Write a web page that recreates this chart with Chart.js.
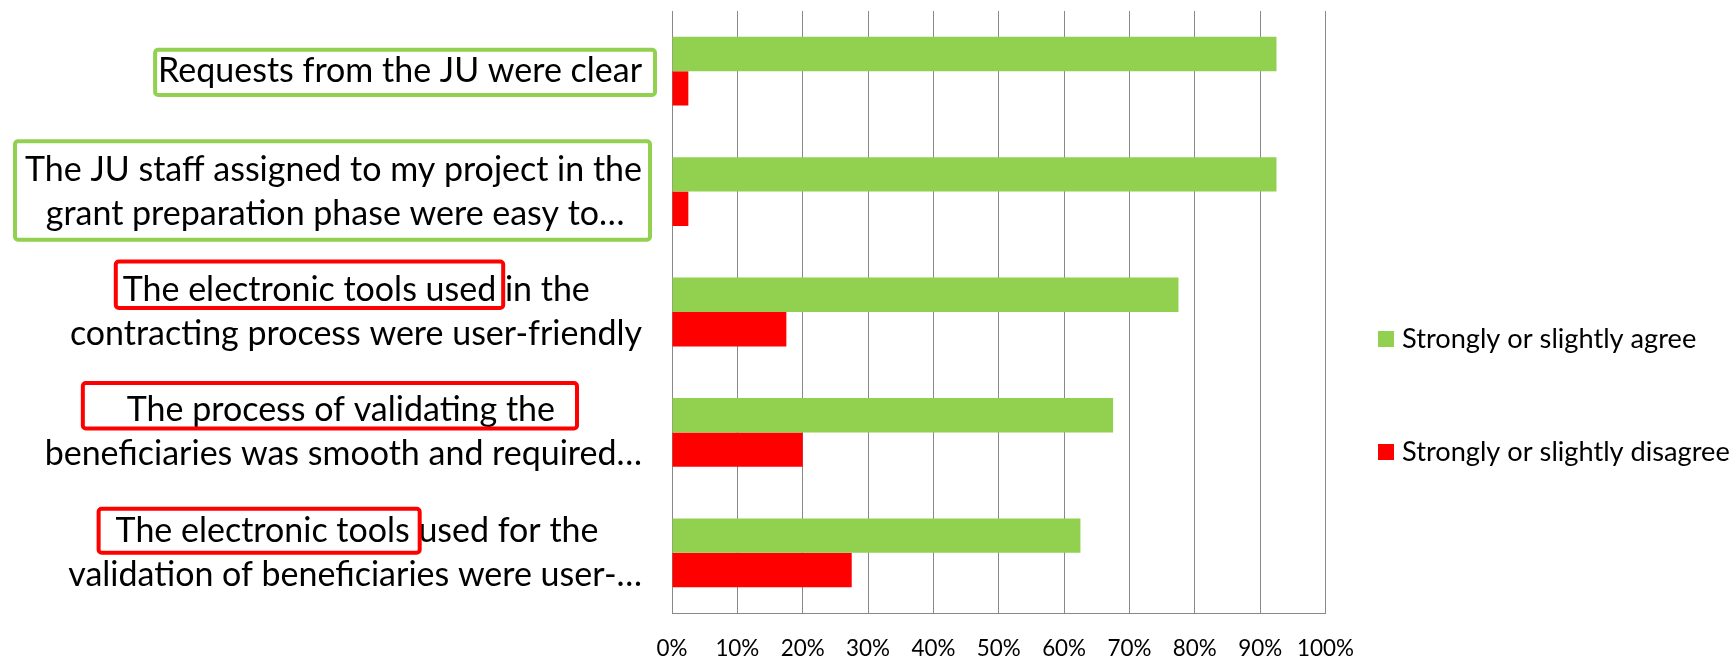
<!DOCTYPE html>
<html><head><meta charset="utf-8">
<script src="https://cdn.jsdelivr.net/npm/chart.js@4.4.0/dist/chart.umd.min.js"></script>
<style>html,body{margin:0;padding:0;background:#fff;}canvas{display:block;}</style>
</head><body>
<canvas id="c" width="1732" height="659"></canvas>
<script>
// ---- data ----
const categories = [
  ['Requests from the JU were clear'],
  ['The JU staff assigned to my project in the', 'grant preparation phase were easy to\u2026'],
  ['The electronic tools used in the', 'contracting process were user-friendly'],
  ['The process of validating the', 'beneficiaries was smooth and required\u2026'],
  ['The electronic tools used for the', 'validation of beneficiaries were user-\u2026']
];
const seriesNames = ['Strongly or slightly agree', 'Strongly or slightly disagree'];
const agreeValues = [92.5, 92.5, 77.5, 67.5, 62.5];
const disagreeValues = [2.5, 2.5, 17.5, 20, 27.5];
const xTickLabels = ['0%', '10%', '20%', '30%', '40%', '50%', '60%', '70%', '80%', '90%', '100%'];

// ---- styles ----
const FONT = 'Lato';
const GREEN = '#92D050', RED = '#FF0000', GRID = '#888888';
const mctx = document.createElement('canvas').getContext('2d');
function fitSize(text, target) { mctx.font = '100px ' + FONT; return 100 * target / mctx.measureText(text).width; }
const labelSize = fitSize(categories[0][0], 484);
const legendSize = fitSize(seriesNames[1], 328);
const tickSize = fitSize('100%', 57);
const LABEL_LH = 44;
const Y_PAD = 30;

function paddedLines(idx) {
  mctx.font = labelSize + 'px ' + FONT;
  const lines = categories[idx];
  const widths = lines.map(l => mctx.measureText(l).width);
  const maxW = Math.max(...widths);
  const sp = mctx.measureText(' ').width;
  return lines.map((l, k) => l + ' '.repeat(Math.round((maxW - widths[k]) / 2 / sp)));
}

// annotation boxes around label text (decoration)
const boxes = [
  {cat: 0, lines: [0], sub: null, padL: 3, padR: 13, padT: 21.5, padB: 23.8, color: GREEN},
  {cat: 1, lines: [0, 1], sub: null, padL: 10, padR: 8, padT: 28.3, padB: 26.1, color: GREEN},
  {cat: 2, lines: [0], sub: 'The electronic tools used', padL: 7, padR: 7, padT: 28.4, padB: 18, color: RED},
  {cat: 3, lines: [0], sub: null, padL: 44, padR: 22, padT: 27.4, padB: 18, color: RED},
  {cat: 4, lines: [0], sub: 'The electronic tools', padL: 17, padR: 10, padT: 22, padB: 22, color: RED}
];

const boxPlugin = {
  id: 'labelBoxes',
  afterDraw(chart) {
    const scale = chart.scales.y;
    const ctx = chart.ctx;
    const xRight = scale.right - Y_PAD;
    ctx.save();
    ctx.font = labelSize + 'px ' + FONT;
    ctx.lineWidth = 4;
    boxes.forEach(b => {
      const padded = paddedLines(b.cat);
      const n = padded.length;
      const yc = scale.getPixelForTick(b.cat);
      let x1 = Infinity, x2 = -Infinity, y1 = Infinity, y2 = -Infinity;
      b.lines.forEach(j => {
        const start = xRight - ctx.measureText(padded[j]).width;
        const txt = b.sub || categories[b.cat][j];
        const end = start + ctx.measureText(txt).width;
        const ly = yc + (1 - n) * LABEL_LH / 2 + j * LABEL_LH;
        x1 = Math.min(x1, start); x2 = Math.max(x2, end);
        y1 = Math.min(y1, ly); y2 = Math.max(y2, ly);
      });
      ctx.strokeStyle = b.color;
      ctx.beginPath();
      ctx.roundRect(x1 - b.padL, y1 - b.padT, (x2 + b.padR) - (x1 - b.padL), (y2 + b.padB) - (y1 - b.padT), 3);
      ctx.stroke();
    });
    ctx.restore();
  }
};

const legendPlugin = {
  id: 'sideLegend',
  afterDraw(chart) {
    const ctx = chart.ctx;
    const ys = [339, 452];
    ctx.save();
    ctx.font = legendSize + 'px ' + FONT;
    ctx.textBaseline = 'middle';
    ctx.textAlign = 'left';
    chart.data.datasets.forEach((ds, i) => {
      ctx.fillStyle = ds.backgroundColor;
      ctx.fillRect(1378, ys[i] - 8, 16, 16);
      ctx.fillStyle = '#000';
      ctx.fillText(ds.label, 1402, ys[i]);
    });
    ctx.restore();
  }
};

new Chart(document.getElementById('c'), {
  type: 'bar',
  data: {
    labels: categories,
    datasets: [
      {label: seriesNames[0], data: agreeValues, backgroundColor: GREEN, borderWidth: 0, barPercentage: 1, categoryPercentage: 1 / 1.75},
      {label: seriesNames[1], data: disagreeValues, backgroundColor: RED, borderWidth: 0, barPercentage: 1, categoryPercentage: 1 / 1.75}
    ]
  },
  options: {
    indexAxis: 'y',
    responsive: false,
    animation: false,
    devicePixelRatio: 1,
    events: [],
    layout: {padding: {top: 11, right: 406.5, left: 0, bottom: 0}},
    plugins: {legend: {display: false}, tooltip: {enabled: false}},
    scales: {
      x: {
        min: 0, max: 100,
        ticks: {stepSize: 10, color: '#000', padding: 22, font: {family: FONT, size: tickSize},
                callback: (v, i) => xTickLabels[i]},
        grid: {color: GRID, lineWidth: 1, drawTicks: false},
        border: {display: true, color: GRID, width: 1},
        afterFit: s => { s.height = 46; }
      },
      y: {
        ticks: {color: '#000', padding: Y_PAD, crossAlign: 'near', autoSkip: false,
                font: {family: FONT, size: labelSize, lineHeight: LABEL_LH / labelSize},
                callback: function(v, i) { return paddedLines(i); }},
        grid: {display: true, drawOnChartArea: false, drawTicks: false},
        border: {display: true, color: GRID, width: 1},
        afterFit: s => { s.width = 672; s.paddingTop = 0; s.paddingBottom = 0; }
      }
    }
  },
  plugins: [boxPlugin, legendPlugin]
});
</script>
</body></html>
